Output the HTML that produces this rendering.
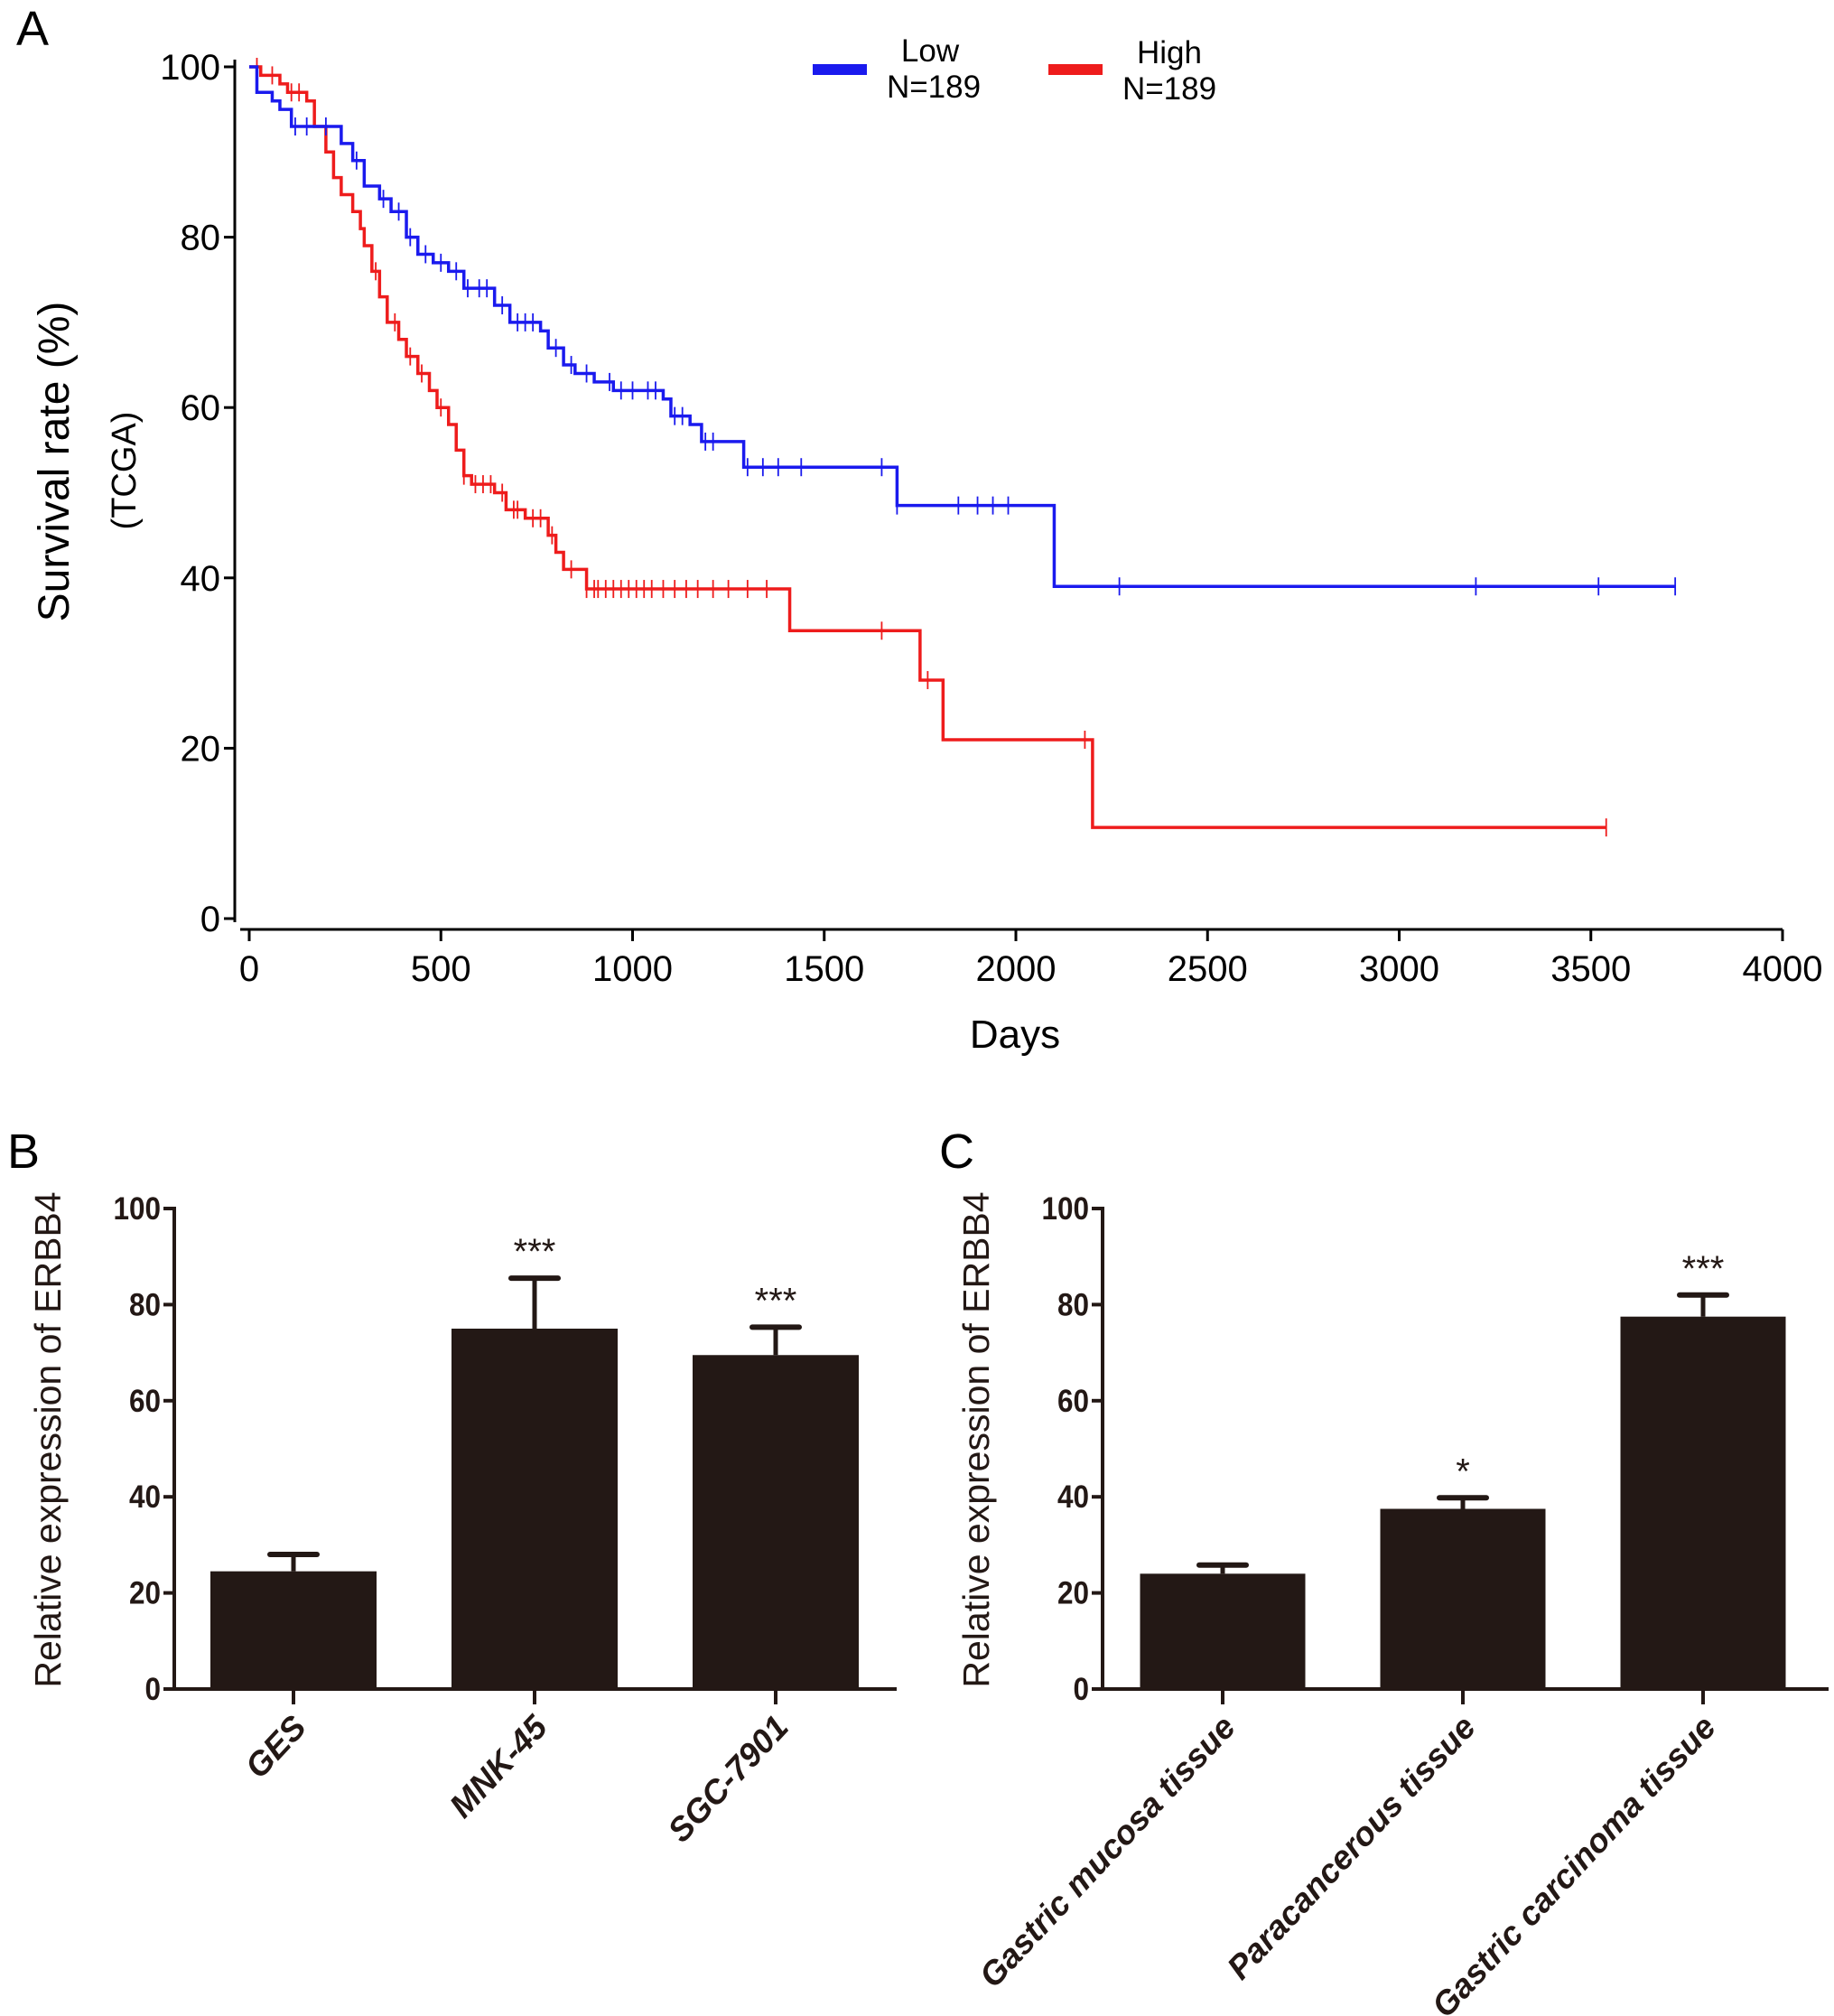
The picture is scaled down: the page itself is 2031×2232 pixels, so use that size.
<!DOCTYPE html>
<html><head><meta charset="utf-8"><style>
html,body{margin:0;padding:0;background:#fff;}
svg{display:block;font-family:"Liberation Sans",Arial,sans-serif;}
</style></head><body>
<svg id="fig" width="2031" height="2232" viewBox="0 0 2031 2232" xmlns="http://www.w3.org/2000/svg">
<text x="18" y="50" font-size="54">A</text>
<text x="8" y="1293" font-size="54">B</text>
<text x="1040" y="1293" font-size="54">C</text>
<g id="km"></g>
<g id="barB"></g>
<g id="barC"></g>
</svg>
<script>
// ---- Panel A data ----
const xTicks = [0,500,1000,1500,2000,2500,3000,3500,4000];
const yTicksA = [0,20,40,60,80,100];
const lowTimes = [0,20,60,80,110,190,240,270,300,340,370,410,440,480,520,560,640,680,760,780,820,850,900,950,1080,1100,1150,1180,1290,1690,2100,3720];
const lowSurv  = [100,97,96,95,93,93,91,89,86,84.5,83,80,78,77,76,74,72,70,69,67,65,64,63,62,61,59,58,56,53,48.5,39,39];
const lowCensor = [120,150,200,280,350,390,420,460,500,540,570,600,620,660,700,720,740,800,840,880,940,970,1000,1040,1060,1110,1130,1190,1210,1300,1340,1380,1440,1650,1690,1850,1900,1940,1980,2270,3200,3520,3720];
const highTimes = [0,30,80,100,150,170,200,220,240,270,290,300,320,340,360,390,410,440,470,490,520,540,560,580,640,670,720,780,800,820,880,1410,1750,1810,2200,3540];
const highSurv  = [100,99,98,97,96,93,90,87,85,83,81,79,76,73,70,68,66,64,62,60,58,55,52,51,50,48,47,45,43,41,38.7,33.8,28,21,10.7,10.7];
const highCensor = [20,60,110,130,330,380,420,450,500,560,590,610,630,660,690,700,740,760,790,840,880,900,910,930,950,970,990,1010,1030,1050,1080,1110,1140,1170,1210,1250,1300,1350,1650,1770,2180,3540];

// ---- Panel B/C data ----
const catsB = ["GES","MNK-45","SGC-7901"];
const valsB = [24.5,75,69.5];
const errB  = [28,85.5,75.3];
const sigB  = ["","***","***"];
const catsC = ["Gastric mucosa tissue","Paracancerous tissue","Gastric carcinoma tissue"];
const valsC = [24,37.5,77.5];
const errC  = [25.8,39.8,82];
const sigC  = ["","*","***"];
const yTicksB = [0,20,40,60,80,100];

const NS="http://www.w3.org/2000/svg";
function mk(parent,tag,attrs,text){const e=document.createElementNS(NS,tag);for(const k in attrs)e.setAttribute(k,attrs[k]);if(text!==undefined)e.textContent=text;parent.appendChild(e);return e;}

// Panel A
(function(){
const g=document.getElementById('km');
const X=t=>276+t/4000*(1974-276);
const Y=v=>1017-v/100*(1017-74);
let e;
e=mk(g,'line',{x1:260,y1:66,x2:260,y2:1021,stroke:'#000','stroke-width':3});


e=mk(g,'line',{x1:266,y1:1029,x2:1974,y2:1029,stroke:'#000','stroke-width':3});


yTicksA.forEach(v=>{mk(g,'line',{x1:248,y1:Y(v),x2:260,y2:Y(v),stroke:'#000','stroke-width':3});
 e=mk(g,'text',{x:244,y:Y(v)+14,'font-size':40,'text-anchor':'end'},String(v));
 
 });
xTicks.forEach(t=>{mk(g,'line',{x1:X(t),y1:1029,x2:X(t),y2:1042,stroke:'#000','stroke-width':3});
 e=mk(g,'text',{x:X(t),y:1086,'font-size':40,'text-anchor':'middle'},String(t));
 
 });
e=mk(g,'text',{x:1124,y:1160,'font-size':44,'text-anchor':'middle'},'Days');


e=mk(g,'text',{x:0,y:0,'font-size':48,'text-anchor':'middle',transform:'translate(76,511) rotate(-90)'},'Survival rate (%)');


e=mk(g,'text',{x:0,y:0,'font-size':38,'text-anchor':'middle',transform:'translate(150,521) rotate(-90)'},'(TCGA)');


function surv(times,vals,t){let v=vals[0];for(let i=0;i<times.length;i++){if(times[i]<=t)v=vals[i];}return v;}
function curve(times,vals,cens,col,name){
 let d='M'+X(times[0])+','+Y(vals[0]);
 for(let i=1;i<times.length;i++){d+=' H'+X(times[i])+' V'+Y(vals[i]);}
 e=mk(g,'path',{d:d,fill:'none',stroke:col,'stroke-width':3.5});
 
 
 cens.forEach(t=>{const v=surv(times,vals,t);
  e=mk(g,'line',{x1:X(t),y1:Y(v)-10,x2:X(t),y2:Y(v)+10,stroke:col,'stroke-width':1.8});
  
  });
}
curve(highTimes,highSurv,highCensor,'#ee1c1c','high');
curve(lowTimes,lowSurv,lowCensor,'#1a1aee','low');
// legend
e=mk(g,'rect',{x:900,y:71,width:60,height:12,fill:'#1a1aee'});


e=mk(g,'text',{x:1030,y:68,'font-size':35,'text-anchor':'middle'},'Low');


e=mk(g,'text',{x:1034,y:108,'font-size':35,'text-anchor':'middle'},'N=189');


e=mk(g,'rect',{x:1161,y:71,width:60,height:12,fill:'#ee1c1c'});


e=mk(g,'text',{x:1295,y:70,'font-size':35,'text-anchor':'middle'},'High');


e=mk(g,'text',{x:1295,y:110,'font-size':35,'text-anchor':'middle'},'N=189');


})();

// Bar panels
function barPanel(id,cats,vals,errs,sigs,ax){
 const g=document.getElementById(id);
 const Y=v=>ax.y0-v/100*(ax.y0-ax.y100);
 let e;
 e=mk(g,'line',{x1:ax.x,y1:ax.y100-2,x2:ax.x,y2:ax.y0,stroke:'#231815','stroke-width':4});
 
 
 e=mk(g,'line',{x1:ax.xl,y1:ax.y0,x2:ax.xr,y2:ax.y0,stroke:'#231815','stroke-width':4});
 
 
 yTicksB.forEach(v=>{mk(g,'line',{x1:ax.x-12,y1:Y(v),x2:ax.x,y2:Y(v),stroke:'#231815','stroke-width':4});
  e=mk(g,'text',{x:ax.x-15,y:Y(v)+12,'font-size':35,'font-weight':'bold','text-anchor':'end',fill:'#231815',transform:'translate('+(ax.x-15)*0.1+',0) scale(0.9,1)'},String(v));
  
  });
 e=mk(g,'text',{x:0,y:0,'font-size':41,'text-anchor':'middle',fill:'#231815',transform:'translate('+(ax.x-126)+','+((ax.y0+ax.y100)/2-10)+') rotate(-90)'},'Relative expression of ERBB4');
 
 
 cats.forEach((c,i)=>{
  const cx=ax.c0+i*ax.step, w=ax.bw;
  e=mk(g,'line',{x1:cx,y1:Y(vals[i]),x2:cx,y2:Y(errs[i]),stroke:'#231815','stroke-width':5});
  
  
  e=mk(g,'line',{x1:cx-26,y1:Y(errs[i]),x2:cx+26,y2:Y(errs[i]),stroke:'#231815','stroke-width':6,'stroke-linecap':'round'});
  
  
  e=mk(g,'rect',{x:cx-w/2,y:Y(vals[i]),width:w,height:Y(0)-Y(vals[i]),fill:'#231815'});
  
  
  mk(g,'line',{x1:cx,y1:ax.y0,x2:cx,y2:ax.y0+17,stroke:'#231815','stroke-width':4});
  if(sigs[i]){e=mk(g,'text',{x:cx,y:Y(errs[i])-16,'font-size':40,'text-anchor':'middle',fill:'#231815'},sigs[i]);
   
   }
  e=mk(g,'text',{x:0,y:0,'font-size':37,'font-weight':'bold','font-style':'italic','text-anchor':'end',fill:'#231815',transform:'translate('+(cx+16)+','+(ax.y0+44)+') rotate(-47)'},c);
  
  
 });
}
barPanel('barB',catsB,valsB,errB,sigB,{x:193,y0:1870,y100:1338,xl:183,xr:993,c0:325,step:267,bw:184});
barPanel('barC',catsC,valsC,errC,sigC,{x:1221,y0:1870,y100:1338,xl:1211,xr:2025,c0:1354,step:266,bw:183});
</script>
</body></html>
